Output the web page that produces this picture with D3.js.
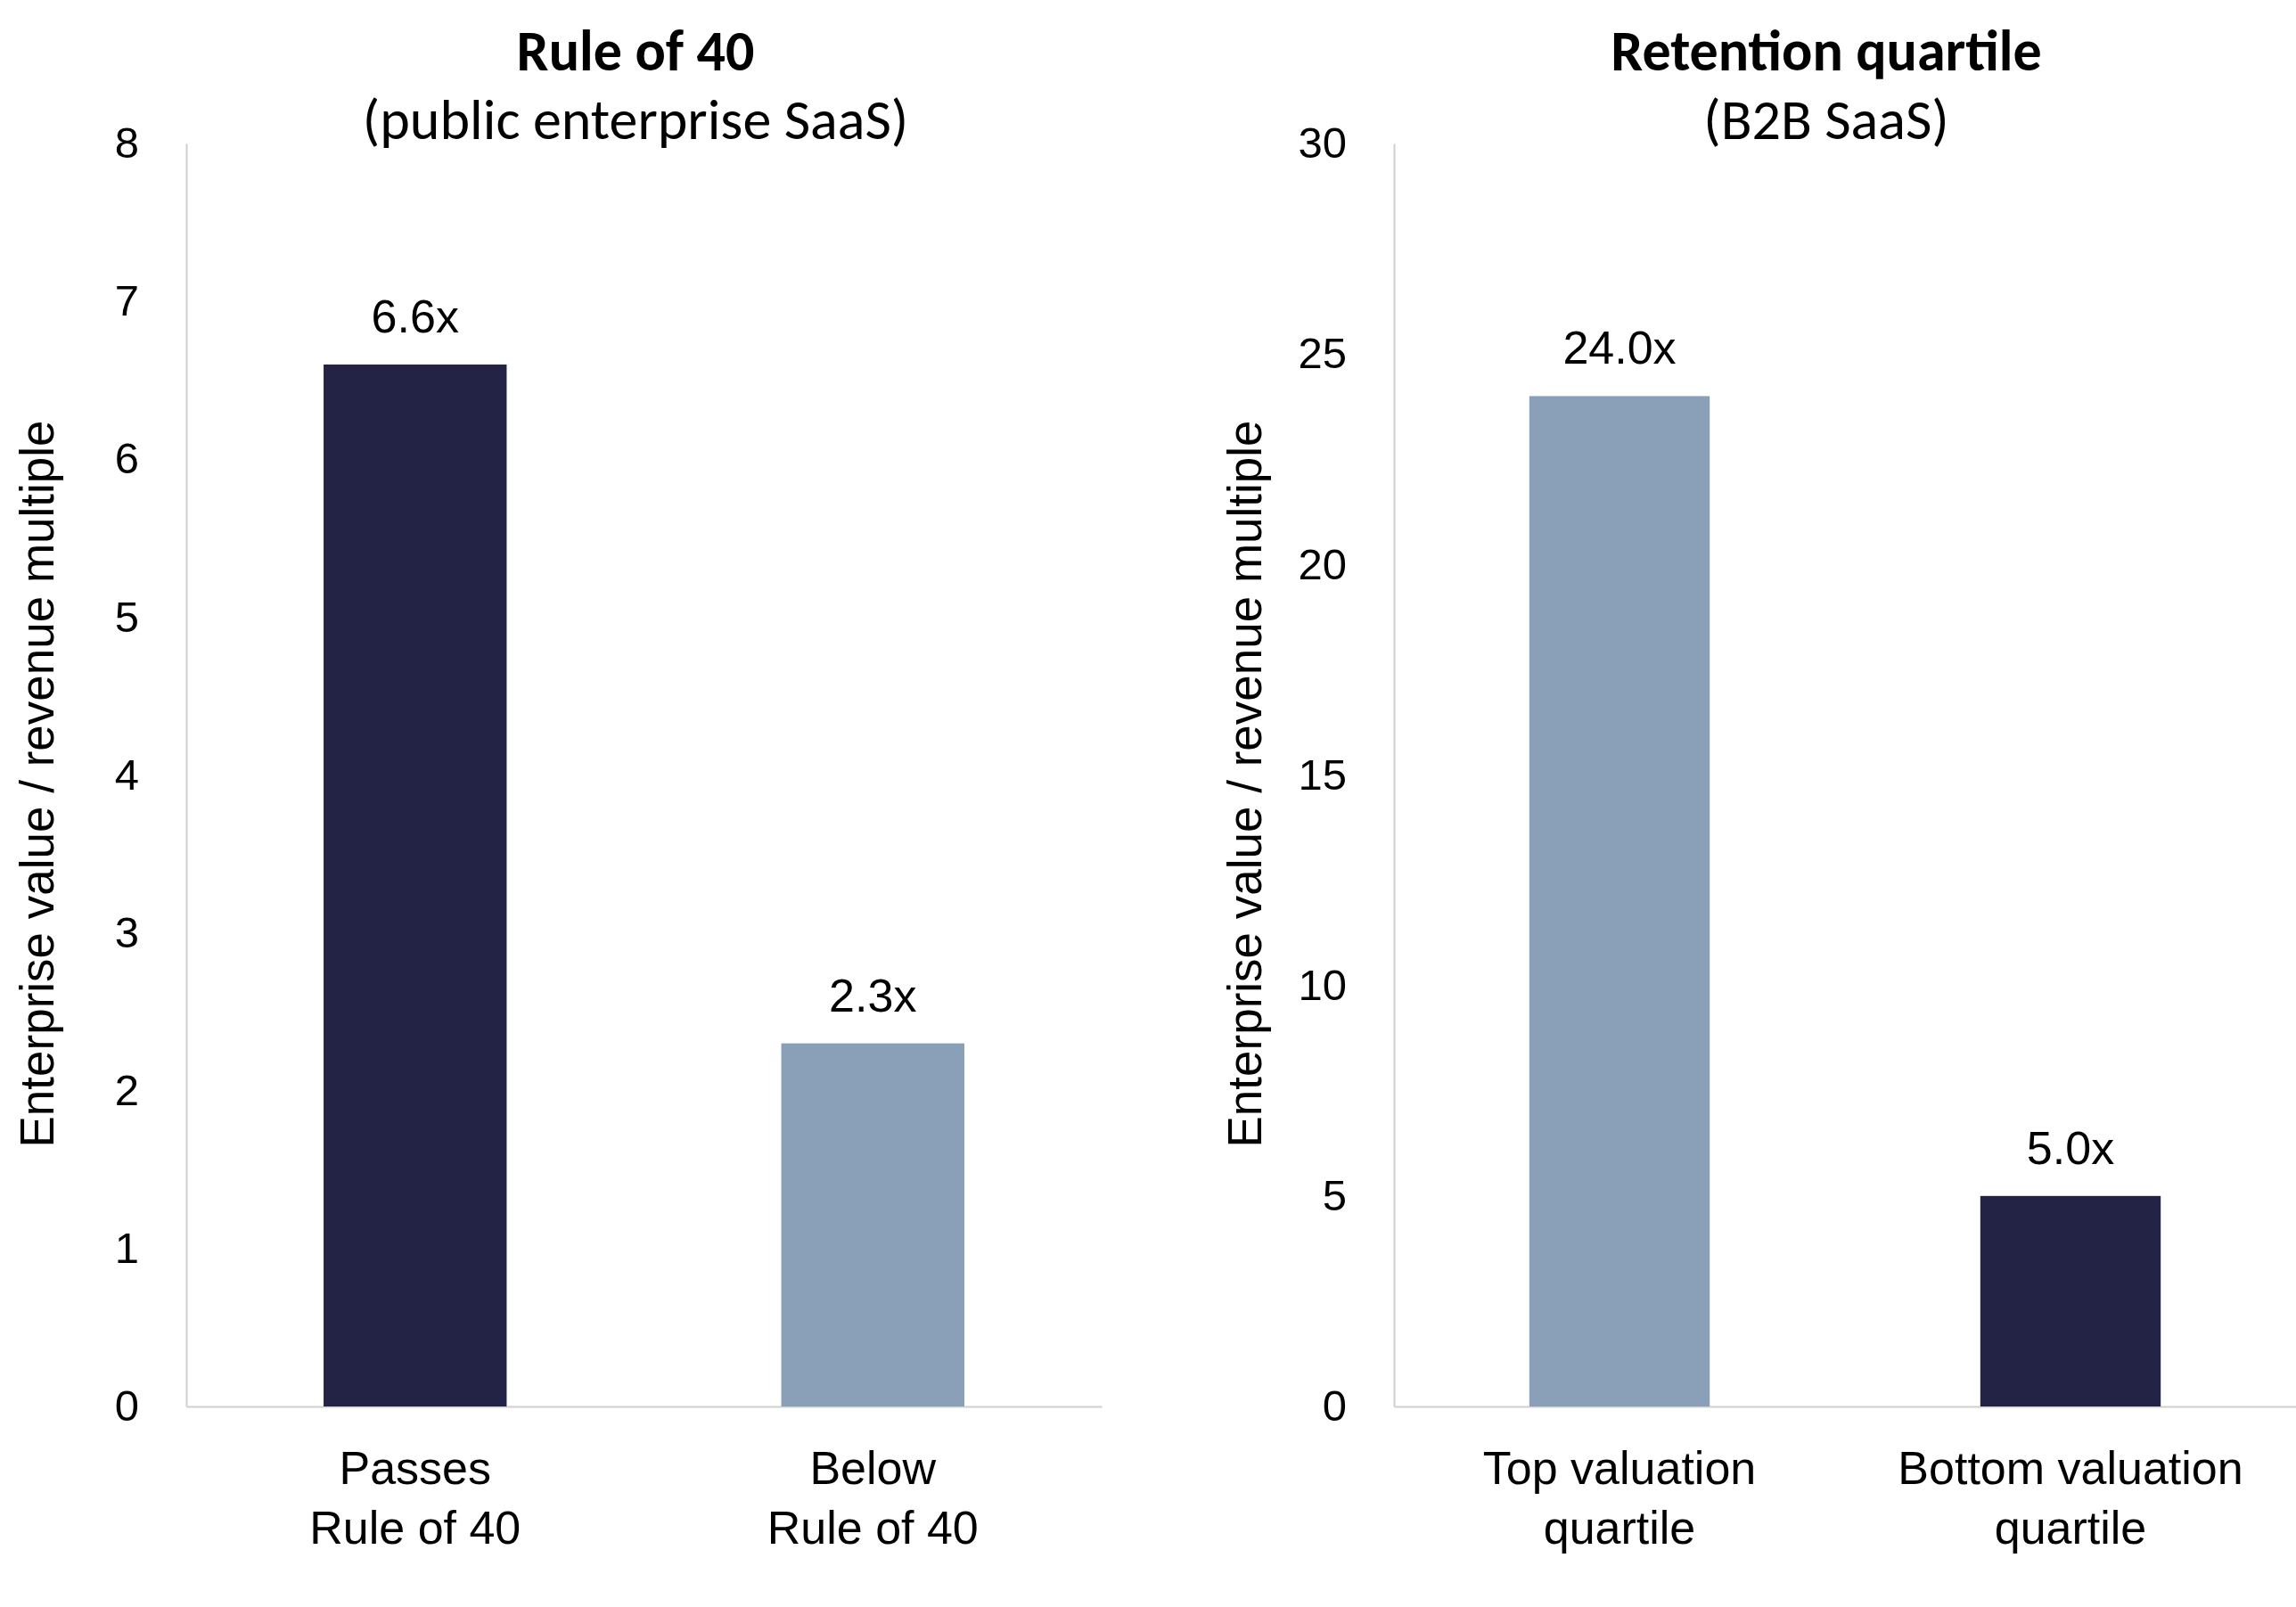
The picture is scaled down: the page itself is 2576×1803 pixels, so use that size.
<!DOCTYPE html>
<html>
<head>
<meta charset="utf-8">
<script src="https://cdn.jsdelivr.net/npm/d3@7"></script>
<style>
  body { margin: 0; background: #fff; }
  svg { display: block; }
</style>
</head>
<body>
<div id="chart"></div>
<script>
// ---- data ----
const ruleCategories = ["Passes|Rule of 40", "Below|Rule of 40"];
const ruleValues = [6.6, 2.3];
const ruleTicks = [0, 1, 2, 3, 4, 5, 6, 7, 8];

const retentionCategories = ["Top valuation|quartile", "Bottom valuation|quartile"];
const retentionValues = [24.0, 5.0];
const retentionTicks = [0, 5, 10, 15, 20, 25, 30];

const panelTitles = ["Rule of 40", "Retention quartile"];
const panelSubtitles = ["(public enterprise SaaS)", "(B2B SaaS)"];
const yAxisTitle = "Enterprise value / revenue multiple";

const dark = "#232445", light = "#8aa0b8";

const W = 2576, H = 1803;
const plotTop = 161, plotBottom = 1578;

const svg = d3.select("#chart").append("svg")
  .attr("width", W).attr("height", H);

const panels = [
  { cats: ruleCategories, vals: ruleValues, ticks: ruleTicks, colors: [dark, light],
    x0: 209, x1: 1236, titleX: 713, title: panelTitles[0], sub: panelSubtitles[0] },
  { cats: retentionCategories, vals: retentionValues, ticks: retentionTicks, colors: [light, dark],
    x0: 1564, x1: 2576, titleX: 2049, title: panelTitles[1], sub: panelSubtitles[1] }
];

const tickFont = "'Liberation Sans', Arial, sans-serif";
const titleFont = "Carlito, Calibri, Lato, sans-serif";

panels.forEach(p => {
  const g = svg.append("g");

  const x = d3.scaleBand()
    .domain(p.cats)
    .range([p.x0, p.x1])
    .paddingInner(0.6)
    .paddingOuter(0.3);

  const y = d3.scaleLinear()
    .domain([0, d3.max(p.ticks)])
    .range([plotBottom, plotTop]);

  // y axis: light line + labels, no ticks
  const ya = g.append("g")
    .attr("transform", `translate(${p.x0},0)`)
    .call(d3.axisLeft(y).tickValues(p.ticks).tickSize(0).tickSizeOuter(0).tickPadding(53));
  ya.select(".domain").attr("stroke", "#cfcfcf").attr("stroke-width", 2);
  ya.selectAll("text")
    .attr("font-family", tickFont)
    .attr("font-size", 49)
    .attr("fill", "#000");

  // x axis baseline
  const xa = g.append("g")
    .attr("transform", `translate(0,${plotBottom})`)
    .call(d3.axisBottom(x).tickSize(0).tickSizeOuter(0));
  xa.select(".domain").attr("stroke", "#cfcfcf").attr("stroke-width", 2);
  xa.selectAll(".tick text").remove();

  xa.selectAll(".tick").each(function(d) {
    const t = d3.select(this).append("text")
      .attr("text-anchor", "middle")
      .attr("font-family", tickFont)
      .attr("font-size", 52)
      .attr("fill", "#000");
    d.split("|").forEach((line, i) => {
      t.append("tspan").attr("x", 0).attr("y", 87 + i * 67).text(line);
    });
  });

  // bars
  g.selectAll("rect.bar")
    .data(p.vals)
    .join("rect")
    .attr("class", "bar")
    .attr("x", (d, i) => x(p.cats[i]))
    .attr("width", x.bandwidth())
    .attr("y", d => y(d))
    .attr("height", d => y(0) - y(d))
    .attr("fill", (d, i) => p.colors[i]);

  // value labels
  g.selectAll("text.val")
    .data(p.vals)
    .join("text")
    .attr("class", "val")
    .attr("x", (d, i) => x(p.cats[i]) + x.bandwidth() / 2)
    .attr("y", d => y(d) - 36)
    .attr("text-anchor", "middle")
    .attr("font-family", tickFont)
    .attr("font-size", 52)
    .attr("fill", "#000")
    .text(d => d.toFixed(1) + "x");

  // y axis title
  g.append("text")
    .attr("transform", `translate(${p.x0 - 149},${(plotTop + plotBottom) / 2 + 10}) rotate(-90)`)
    .attr("text-anchor", "middle")
    .attr("font-family", tickFont)
    .attr("font-size", 53)
    .attr("fill", "#000")
    .text(yAxisTitle);

  // titles
  g.append("text")
    .attr("x", p.titleX).attr("y", 79)
    .attr("text-anchor", "middle")
    .attr("font-family", titleFont)
    .attr("font-weight", "bold")
    .attr("font-size", 64)
    .attr("fill", "#000")
    .text(p.title);

  g.append("text")
    .attr("x", p.titleX).attr("y", 156)
    .attr("text-anchor", "middle")
    .attr("font-family", titleFont)
    .attr("font-size", 64)
    .attr("fill", "#000")
    .text(p.sub);
});
</script>
</body>
</html>
